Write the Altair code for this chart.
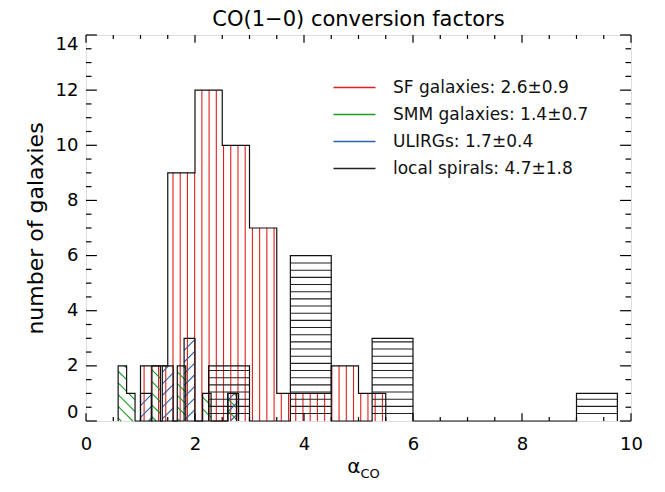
import altair as alt
import pandas as pd
import numpy as np

# ---------------- data ----------------
sf_left = [1.0, 1.5, 2.0, 2.5, 3.0, 3.5, 4.0, 4.5, 5.0]
sf_counts = [2, 9, 12, 10, 7, 1, 1, 2, 1]
sf_width = 0.5

smm_left = [0.59, 0.745, 1.21, 1.675, 2.14, 2.605]
smm_counts = [2, 1, 2, 2, 1, 1]
smm_width = 0.155

ulirg_left = [1.0, 1.4, 1.8, 2.6]
ulirg_counts = [1, 2, 3, 1]
ulirg_width = 0.2

spiral_left = [2.25, 3.75, 5.25, 9.0]
spiral_counts = [2, 6, 3, 1]
spiral_width = 0.75

series_names = ["SF galaxies: 2.6±0.9", "SMM galaxies: 1.4±0.7",
                "ULIRGs: 1.7±0.4", "local spirals: 4.7±1.8"]
series_colors = ["#e0201c", "#16a020", "#2f5fa8", "#222222"]

x_major = [0, 2, 4, 6, 8, 10]
x_minor = [v / 2 for v in range(0, 21) if v % 4 != 0]
y_major = [0, 2, 4, 6, 8, 10, 12, 14]
y_minor = [v / 2 for v in range(0, 29) if v % 4 != 0]

# ---------------- layout ----------------
W, H = 545, 386
XMAX, YMAX = 10.0, 14.0
XPU, YPU = W / XMAX, H / YMAX
FONT = "DejaVu Sans"

# ---------------- hatch lines (computed from the bars) ----------------
rows = []


def add(x, y, x2, y2, s):
    rows.append({"x": x, "y": y, "x2": x2, "y2": y2, "series": s})


# SF galaxies: vertical lines
sp = 0.1325
phase = 1.596 % sp
for l, c in zip(sf_left, sf_counts):
    k0 = int(np.ceil((l - phase) / sp))
    xv = phase + k0 * sp
    while xv < l + sf_width - 1e-6:
        add(xv, 0, xv, c, series_names[0])
        xv += sp

# local spirals: horizontal lines
for l, c in zip(spiral_left, spiral_counts):
    yv = 0.27
    while yv < c - 0.02:
        add(l, yv, l + spiral_width, yv, series_names[3])
        yv += 0.26


def diag(lefts, counts, width, sign, name, spacing=11.7, c0=0.0):
    for l, c in zip(lefts, counts):
        X0, X1, Hh = l * XPU, (l + width) * XPU, c * YPU
        if sign > 0:  # "/" : px - py = cc
            lo_c, hi_c = X0 - Hh, X1
        else:         # "\" : px + py = cc
            lo_c, hi_c = X0, X1 + Hh
        k = np.ceil((lo_c - c0) / spacing)
        cc = c0 + k * spacing
        while cc <= hi_c:
            if sign > 0:
                lo = max(0.0, X0 - cc)
                hi = min(Hh, X1 - cc)
                if hi > lo:
                    add((lo + cc) / XPU, lo / YPU, (hi + cc) / XPU, hi / YPU, name)
            else:
                lo = max(0.0, cc - X1)
                hi = min(Hh, cc - X0)
                if hi > lo:
                    add((cc - lo) / XPU, lo / YPU, (cc - hi) / XPU, hi / YPU, name)
            cc += spacing


diag(smm_left, smm_counts, smm_width, -1, series_names[1])
diag(ulirg_left, ulirg_counts, ulirg_width, 1, series_names[2], c0=4.0)

hatch = pd.DataFrame(rows)

# ---------------- step outlines ----------------
orow = []


def outline(lefts, counts, width, name):
    pts = []
    for i, (l, c) in enumerate(zip(lefts, counts)):
        r = l + width
        if i == 0 or abs(lefts[i - 1] + width - l) > 1e-6:
            pts.append((l, 0))
        pts.append((l, c))
        pts.append((r, c))
        if i == len(lefts) - 1 or abs(lefts[i + 1] - r) > 1e-6:
            pts.append((r, 0))
    for j, (x, y) in enumerate(pts):
        orow.append({"x": x, "y": y, "series": name, "i": j})


outline(sf_left, sf_counts, sf_width, series_names[0])
outline(smm_left, smm_counts, smm_width, series_names[1])
outline(ulirg_left, ulirg_counts, ulirg_width, series_names[2])
outline(spiral_left, spiral_counts, spiral_width, series_names[3])
outl = pd.DataFrame(orow)

xs = alt.Scale(domain=[0, XMAX], nice=False, zero=False)
ys = alt.Scale(domain=[0, YMAX], nice=False, zero=False)

hatch_layer = alt.Chart(hatch).mark_rule(strokeWidth=1.1).encode(
    x=alt.X("x:Q", scale=xs,
            axis=alt.Axis(values=x_major, ticks=False, domain=False, grid=False,
                          labelFontSize=18, labelFont=FONT, labelColor="black",
                          labelPadding=14, labelFlush=False, title=None,
                          format="d")),
    y=alt.Y("y:Q", scale=ys,
            axis=alt.Axis(values=y_major, ticks=False, domain=False, grid=False,
                          labelFontSize=18, labelFont=FONT, labelColor="black",
                          labelPadding=8, labelFlush=True,
                          title="number of galaxies", titleFontSize=22,
                          titleFont=FONT, titleFontWeight="normal",
                          titleColor="black", titlePadding=8, format="d")),
    x2="x2:Q",
    y2="y2:Q",
    stroke=alt.Stroke("series:N",
                      scale=alt.Scale(domain=series_names, range=series_colors),
                      sort=series_names,
                      legend=alt.Legend(title=None, orient="none",
                                        legendX=260, legendY=44,
                                        symbolType="M-3,0H3", symbolSize=196,
                                        symbolStrokeWidth=1.3,
                                        labelFont=FONT, labelFontSize=17,
                                        labelColor="#111", labelOffset=30,
                                        labelLimit=0,
                                        rowPadding=9, padding=0)),
)

outline_layer = alt.Chart(outl).mark_line(color="#111", strokeWidth=1.2).encode(
    x=alt.X("x:Q", scale=xs),
    y=alt.Y("y:Q", scale=ys),
    detail="series:N",
    order="i:Q",
)


# axis ticks (inward, on all four sides)
def xticks(vals, length):
    d = pd.DataFrame({"x": vals})
    b = alt.Chart(d).mark_rule(color="black", strokeWidth=1.2).encode(
        x=alt.X("x:Q", scale=xs), y=alt.value(H), y2=alt.value(H - length))
    t = alt.Chart(d).mark_rule(color="black", strokeWidth=1.2).encode(
        x=alt.X("x:Q", scale=xs), y=alt.value(0), y2=alt.value(length))
    return [b, t]


def yticks(vals, length):
    d = pd.DataFrame({"y": vals})
    l = alt.Chart(d).mark_rule(color="black", strokeWidth=1.2).encode(
        y=alt.Y("y:Q", scale=ys), x=alt.value(0), x2=alt.value(length))
    r = alt.Chart(d).mark_rule(color="black", strokeWidth=1.2).encode(
        y=alt.Y("y:Q", scale=ys), x=alt.value(W), x2=alt.value(W - length))
    return [l, r]


tick_layers = (xticks(x_major, 7.7) + xticks(x_minor, 3.9)
               + yticks(y_major, 10.9) + yticks(y_minor, 5.5))

alpha_df = pd.DataFrame({"t": ["α"]})
co_df = pd.DataFrame({"t": ["CO"]})
alpha_text = alt.Chart(alpha_df).mark_text(
    font=FONT, fontSize=20, align="right", baseline="alphabetic", color="black"
).encode(text="t:N", x=alt.value(W / 2 + 2), y=alt.value(H + 52))
co_text = alt.Chart(co_df).mark_text(
    font=FONT, fontSize=13, align="left", baseline="alphabetic", color="black"
).encode(text="t:N", x=alt.value(W / 2 + 2), y=alt.value(H + 57))

chart = alt.layer(
    hatch_layer, outline_layer, *tick_layers, alpha_text, co_text
).properties(
    width=W, height=H,
    autosize=alt.AutoSizeParams(type="none"),
    padding={"left": 78, "top": 27, "right": 26, "bottom": 63},
    title=alt.TitleParams("CO(1−0) conversion factors", font=FONT, fontSize=21,
                          fontWeight="normal", color="black", anchor="middle",
                          offset=4),
).configure_view(stroke="black", strokeWidth=1.2).configure(background="white")

chart.save("out.html", embed_options={"renderer": "svg", "actions": False})
